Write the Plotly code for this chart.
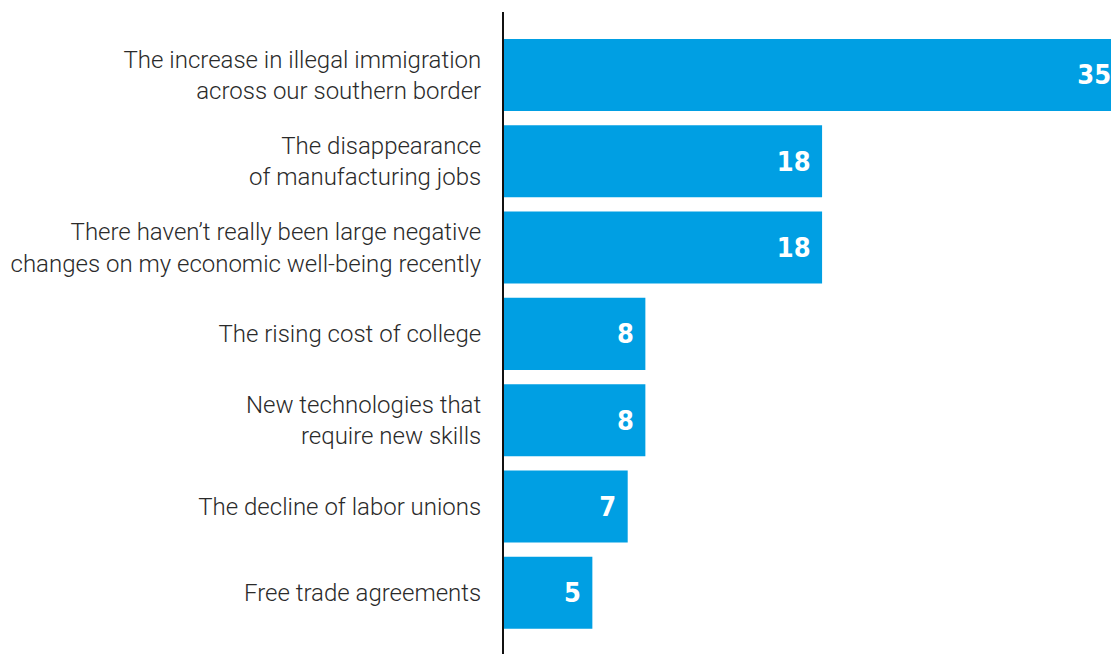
import plotly.graph_objects as go

# Survey responses: share of respondents (%) naming each change
categories = [
    "The increase in illegal immigration<br>across our southern border",
    "The disappearance<br>of manufacturing jobs",
    "There haven\u2019t really been large negative<br>changes on my economic well-being recently",
    "The rising cost of college",
    "New technologies that<br>require new skills",
    "The decline of labor unions",
    "Free trade agreements",
]
values = [35, 18, 18, 8, 8, 7, 5]

positions = list(range(len(categories)))
bar_labels = [f"{v}\u00a0" for v in values]

fig = go.Figure(
    go.Bar(
        x=values,
        y=positions,
        orientation="h",
        marker=dict(color="#009FE3", line=dict(width=0)),
        width=0.835,
        text=bar_labels,
        textposition="inside",
        insidetextanchor="end",
        constraintext="none",
        textangle=0,
        insidetextfont=dict(
            family="DejaVu Sans Condensed, Liberation Sans Narrow, sans-serif",
            size=27,
            color="white",
            weight="bold",
        ),
        cliponaxis=True,
        hoverinfo="skip",
    )
)

fig.update_layout(
    width=1111,
    height=654,
    margin=dict(l=504, r=0, t=12, b=0),
    paper_bgcolor="white",
    plot_bgcolor="white",
    showlegend=False,
    xaxis=dict(
        range=[0, 34.35],
        showgrid=False,
        zeroline=False,
        showticklabels=False,
        showline=False,
        fixedrange=True,
    ),
    yaxis=dict(
        range=[6.71, -0.73],
        tickmode="array",
        tickvals=positions,
        ticktext=categories,
        showgrid=False,
        zeroline=False,
        showline=True,
        linecolor="#111111",
        linewidth=2,
        ticks="outside",
        ticklen=16,
        tickcolor="rgba(0,0,0,0)",
        tickfont=dict(family="Roboto, sans-serif", size=24, color="#2a2a2a", weight=300),
        fixedrange=True,
    ),
)

fig.write_html("out.html")
